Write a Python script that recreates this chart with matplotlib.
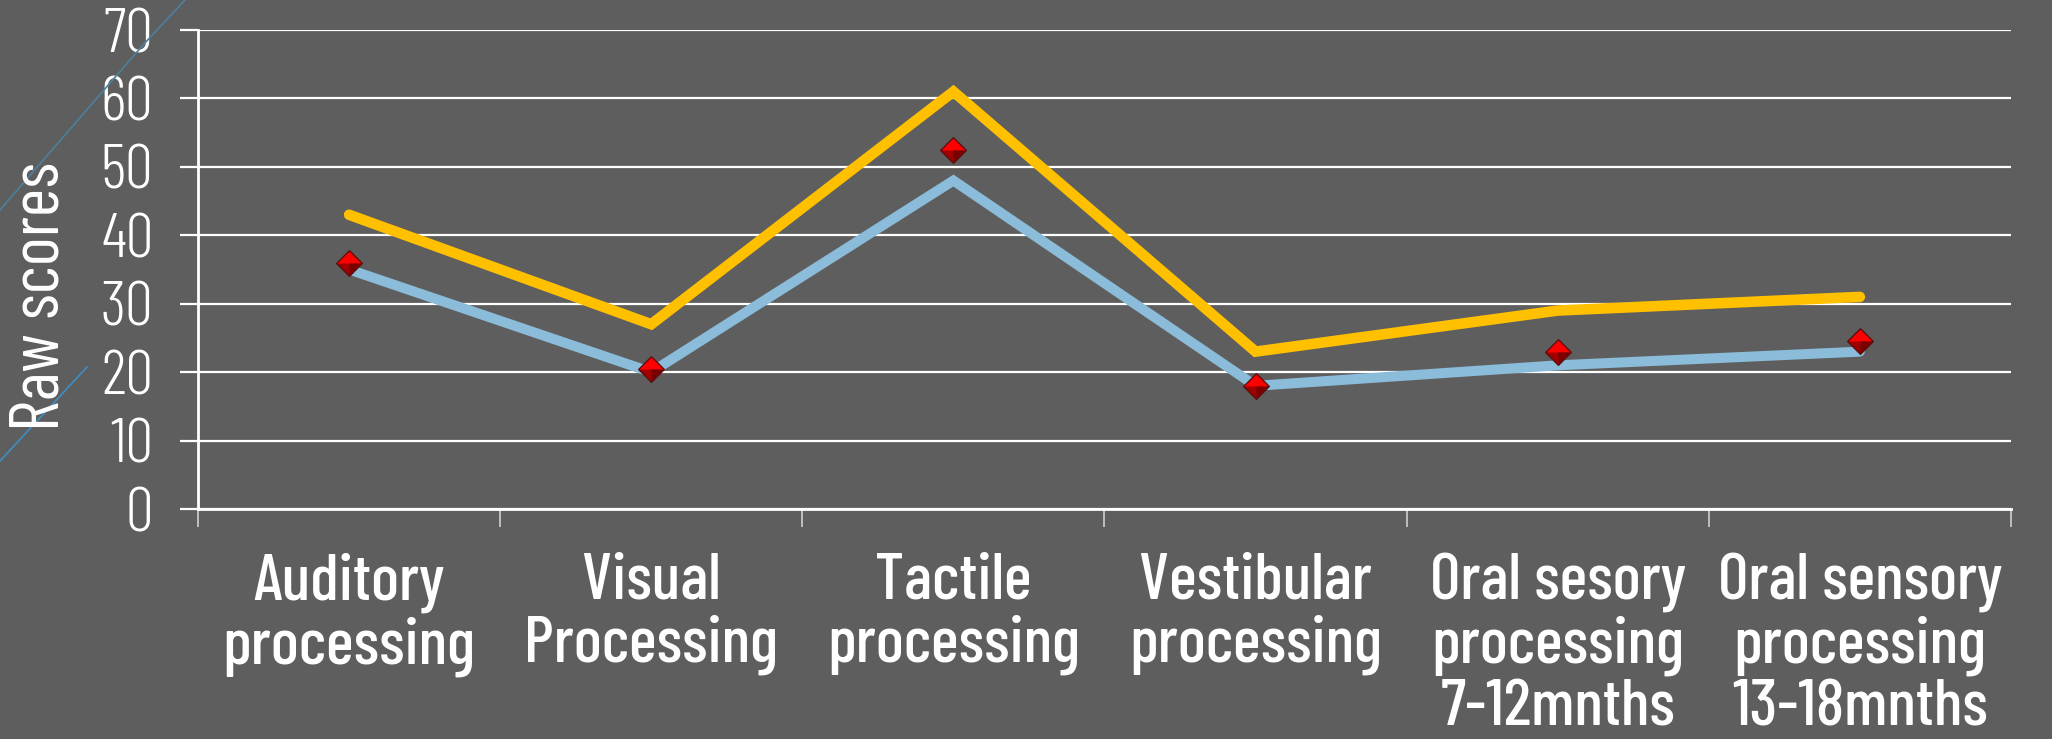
import numpy as np
import matplotlib.pyplot as plt
from matplotlib.lines import Line2D

# Sensory profile raw scores
categories = ["Auditory\nprocessing", "Visual\nProcessing", "Tactile\nprocessing",
              "Vestibular\nprocessing", "Oral sesory\nprocessing\n7-12mnths",
              "Oral sensory\nprocessing\n13-18mnths"]
upper_scores = [43, 27, 61, 23, 29, 31]
lower_scores = [35, 20, 48, 18, 21, 23]
child_scores = [36, 20.5, 52.5, 18, 23, 24.5]
y_ticks = [0, 10, 20, 30, 40, 50, 60, 70]

BG = '#5e5e5e'
FONT = ['Barlow Condensed', 'DejaVu Sans']

plt.rcParams['font.family'] = FONT

fig = plt.figure(figsize=(20.52, 7.39), dpi=100, facecolor=BG)
ax = fig.add_axes([0.0965, 0.3112, 0.8835, 0.6482])
ax.set_facecolor(BG)

x = np.arange(len(categories)) + 0.5

ax.plot(x, upper_scores, color='#ffc000', lw=7.6, solid_capstyle='round',
        solid_joinstyle='miter', zorder=3)
ax.plot(x, lower_scores, color='#8bbcd9', lw=7.2, solid_capstyle='round',
        solid_joinstyle='miter', zorder=3)

# bevelled red diamonds: dark base, bright upper half, shaded lower-right facet
diamond = [(0, 1), (1, 0), (0, -1), (-1, 0), (0, 1)]
top_half = [(-1, 0), (0, 1), (1, 0), (0, 0), (-1, 0)]
low_right = [(0, 0), (1, 0), (0, -1), (0, 0)]
ax.plot(x, child_scores, ls='none', marker=diamond, ms=18.5, mfc='#a00000',
        mec='#5a1010', mew=1.0, zorder=4)
ax.plot(x, child_scores, ls='none', marker=top_half, ms=17, mfc='#ff0000',
        mec='none', zorder=5)
ax.plot(x, child_scores, ls='none', marker=low_right, ms=17,
        mfc='#7a0000', mec='none', zorder=5)

ax.set_xlim(0, len(categories))
ax.set_ylim(0, 70)
ax.set_yticks(y_ticks)
ax.yaxis.grid(True, color='white', lw=1.6)
ax.set_axisbelow(True)

for side in ['top', 'right']:
    ax.spines[side].set_visible(False)
ax.spines['left'].set_color('white')
ax.spines['left'].set_linewidth(2)
ax.spines['bottom'].set_color('white')
ax.spines['bottom'].set_linewidth(2)

ax.tick_params(axis='y', colors='white', length=13, width=1.6, pad=19,
               labelsize=45)
for lbl in ax.get_yticklabels():
    lbl.set_fontweight(300)

# boundaries carry the ticks, centres carry the labels
ax.set_xticks(np.arange(len(categories) + 1))
ax.set_xticklabels([])
ax.set_xticks(x, minor=True)
ax.set_xticklabels(categories, minor=True, fontsize=47.5, fontweight=500,
                   color='white', linespacing=1.08)
ax.tick_params(axis='x', which='major', colors='#d0d0d0', length=13, width=1.2)
ax.tick_params(axis='x', which='minor', length=0, pad=31)

fig.text(41 / 2052, 1 - 296 / 739, 'Raw scores', rotation=90, color='white',
         fontsize=50, ha='center', va='center')

# slide decoration strokes at the left edge
fig.add_artist(Line2D([0, 143 / 2052, 185 / 2052],
                      [1 - 210 / 739, 1 - 45 / 739, 1.0],
                      transform=fig.transFigure, color='#4d7f9e', lw=1.2))
fig.add_artist(Line2D([0, 87 / 2052], [1 - 461 / 739, 1 - 367 / 739],
                      transform=fig.transFigure, color='#3d8fc6', lw=1.2))

fig.savefig('out.png', dpi=100, facecolor=BG)
